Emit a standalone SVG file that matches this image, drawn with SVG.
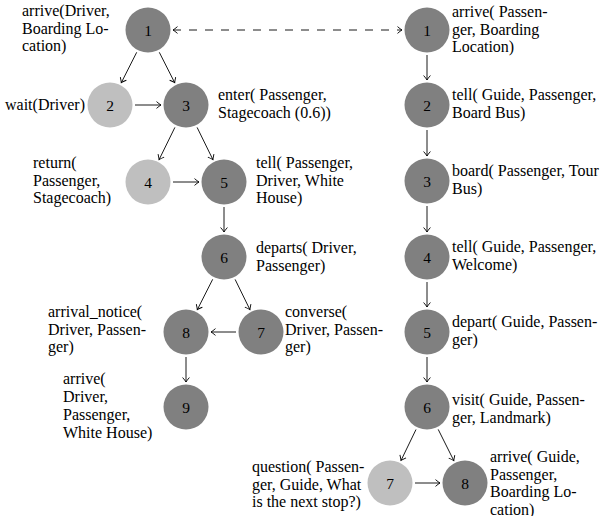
<svg xmlns="http://www.w3.org/2000/svg" width="600" height="516" viewBox="0 0 600 516" font-family="'Liberation Serif', 'Times New Roman', Times, serif">
  <defs>
    <marker id="tip" viewBox="-6 -5 8 10" markerWidth="8" markerHeight="10" refX="0" refY="0" orient="auto-start-reverse" markerUnits="userSpaceOnUse">
      <path d="M-4.5,-3.4 Q-1.6,-0.9 0,0 Q-1.6,0.9 -4.5,3.4" fill="none" stroke="#000" stroke-width="0.9"/>
    </marker>
    <style>
      .dark { fill: #808080; }
      .light { fill: #bfbfbf; }
      .num { font-family: 'Liberation Serif', Times, serif; font-size: 15.5px; fill: #000; text-anchor: middle; dominant-baseline: central; }
      .lbl { font-family: 'Liberation Serif', Times, serif; font-size: 16px; fill: #000; }
      .edge { stroke: #000; stroke-width: 0.9; fill: none; marker-end: url(#tip); }
      .dash { stroke: #000; stroke-width: 0.9; fill: none; stroke-dasharray: 8 8; marker-start: url(#tip); marker-end: url(#tip); }
    </style>
  </defs>
  <rect width="600" height="516" fill="#fff"/>

  <!-- connectors -->
  <g id="connectors">
    <line class="dash" x1="173" y1="30" x2="402" y2="30"/>
    <!-- left graph -->
    <line class="edge" x1="136.7" y1="52.3" x2="121.3" y2="82.7"/>
    <line class="edge" x1="159.3" y1="52.3" x2="174.7" y2="82.7"/>
    <line class="edge" x1="135" y1="105" x2="161" y2="105"/>
    <line class="edge" x1="174.9" y1="127.4" x2="159.1" y2="159.6"/>
    <line class="edge" x1="197.1" y1="127.4" x2="212.9" y2="159.6"/>
    <line class="edge" x1="173" y1="182" x2="199" y2="182"/>
    <line class="edge" x1="224" y1="207" x2="224" y2="232"/>
    <line class="edge" x1="212.7" y1="279.3" x2="197.3" y2="309.7"/>
    <line class="edge" x1="235.1" y1="279.4" x2="249.9" y2="309.6"/>
    <line class="edge" x1="236" y1="332" x2="211" y2="332"/>
    <line class="edge" x1="186" y1="357" x2="186" y2="382"/>
    <!-- right graph -->
    <line class="edge" x1="427" y1="55" x2="427" y2="80"/>
    <line class="edge" x1="427" y1="130" x2="427" y2="156"/>
    <line class="edge" x1="427" y1="206" x2="427" y2="232"/>
    <line class="edge" x1="427" y1="282" x2="427" y2="307"/>
    <line class="edge" x1="427" y1="357" x2="427" y2="382"/>
    <line class="edge" x1="416" y1="429.5" x2="401" y2="460.5"/>
    <line class="edge" x1="438.2" y1="429.4" x2="453.8" y2="460.6"/>
    <line class="edge" x1="415" y1="483" x2="440" y2="483"/>
  </g>

  <!-- left graph nodes -->
  <g id="L1">
    <circle class="dark" cx="148" cy="30" r="22.5"/>
    <text class="num" x="148" y="30">1</text>
    <text class="lbl" x="22"><tspan x="22" y="16">arrive(Driver,</tspan><tspan x="22" y="33.5">Boarding Lo-</tspan><tspan x="22" y="51">cation)</tspan></text>
  </g>
  <g id="L2">
    <circle class="light" cx="110" cy="105" r="22.5"/>
    <text class="num" x="110" y="105">2</text>
    <text class="lbl" x="5" y="110">wait(Driver)</text>
  </g>
  <g id="L3">
    <circle class="dark" cx="186" cy="105" r="22.5"/>
    <text class="num" x="186" y="105">3</text>
    <text class="lbl"><tspan x="218" y="100">enter( Passenger,</tspan><tspan x="218" y="117.5">Stagecoach (0.6))</tspan></text>
  </g>
  <g id="L4">
    <circle class="light" cx="148" cy="182" r="22.5"/>
    <text class="num" x="148" y="182">4</text>
    <text class="lbl"><tspan x="33" y="168">return(</tspan><tspan x="33" y="185.5">Passenger,</tspan><tspan x="33" y="203">Stagecoach)</tspan></text>
  </g>
  <g id="L5">
    <circle class="dark" cx="224" cy="182" r="22.5"/>
    <text class="num" x="224" y="182">5</text>
    <text class="lbl"><tspan x="256" y="168">tell( Passenger,</tspan><tspan x="256" y="185.5">Driver, White</tspan><tspan x="256" y="203">House)</tspan></text>
  </g>
  <g id="L6">
    <circle class="dark" cx="224" cy="257" r="22.5"/>
    <text class="num" x="224" y="257">6</text>
    <text class="lbl"><tspan x="256" y="253">departs( Driver,</tspan><tspan x="256" y="270.5">Passenger)</tspan></text>
  </g>
  <g id="L7">
    <circle class="dark" cx="261" cy="332" r="22.5"/>
    <text class="num" x="261" y="332">7</text>
    <text class="lbl"><tspan x="285" y="317">converse(</tspan><tspan x="285" y="334.5">Driver, Passen-</tspan><tspan x="285" y="352">ger)</tspan></text>
  </g>
  <g id="L8">
    <circle class="dark" cx="186" cy="332" r="22.5"/>
    <text class="num" x="186" y="332">8</text>
    <text class="lbl"><tspan x="48" y="317">arrival_notice(</tspan><tspan x="48" y="334.5">Driver, Passen-</tspan><tspan x="48" y="352">ger)</tspan></text>
  </g>
  <g id="L9">
    <circle class="dark" cx="186" cy="407" r="22.5"/>
    <text class="num" x="186" y="407">9</text>
    <text class="lbl"><tspan x="63" y="384">arrive(</tspan><tspan x="63" y="402">Driver,</tspan><tspan x="63" y="420">Passenger,</tspan><tspan x="63" y="438">White House)</tspan></text>
  </g>

  <!-- right graph nodes -->
  <g id="R1">
    <circle class="dark" cx="427" cy="30" r="22.5"/>
    <text class="num" x="427" y="30">1</text>
    <text class="lbl"><tspan x="452" y="17">arrive( Passen-</tspan><tspan x="452" y="34.5">ger, Boarding</tspan><tspan x="452" y="52">Location)</tspan></text>
  </g>
  <g id="R2">
    <circle class="dark" cx="427" cy="105" r="22.5"/>
    <text class="num" x="427" y="105">2</text>
    <text class="lbl"><tspan x="452" y="100">tell( Guide, Passenger,</tspan><tspan x="452" y="118">Board Bus)</tspan></text>
  </g>
  <g id="R3">
    <circle class="dark" cx="427" cy="181" r="22.5"/>
    <text class="num" x="427" y="181">3</text>
    <text class="lbl"><tspan x="452" y="176">board( Passenger, Tour</tspan><tspan x="452" y="193.5">Bus)</tspan></text>
  </g>
  <g id="R4">
    <circle class="dark" cx="427" cy="257" r="22.5"/>
    <text class="num" x="427" y="257">4</text>
    <text class="lbl"><tspan x="452" y="252">tell( Guide, Passenger,</tspan><tspan x="452" y="269.5">Welcome)</tspan></text>
  </g>
  <g id="R5">
    <circle class="dark" cx="427" cy="332" r="22.5"/>
    <text class="num" x="427" y="332">5</text>
    <text class="lbl"><tspan x="452" y="327">depart( Guide, Passen-</tspan><tspan x="452" y="344.5">ger)</tspan></text>
  </g>
  <g id="R6">
    <circle class="dark" cx="427" cy="407" r="22.5"/>
    <text class="num" x="427" y="407">6</text>
    <text class="lbl"><tspan x="452" y="405">visit( Guide, Passen-</tspan><tspan x="452" y="422.5">ger, Landmark)</tspan></text>
  </g>
  <g id="R7">
    <circle class="light" cx="390" cy="483" r="22.5"/>
    <text class="num" x="390" y="483">7</text>
    <text class="lbl"><tspan x="252" y="472">question( Passen-</tspan><tspan x="252" y="489.5">ger, Guide, What</tspan><tspan x="252" y="507">is the next stop?)</tspan></text>
  </g>
  <g id="R8">
    <circle class="dark" cx="465" cy="483" r="22.5"/>
    <text class="num" x="465" y="483">8</text>
    <text class="lbl"><tspan x="490" y="462">arrive( Guide,</tspan><tspan x="490" y="479.5">Passenger,</tspan><tspan x="490" y="497">Boarding Lo-</tspan><tspan x="490" y="514.5">cation)</tspan></text>
  </g>
</svg>
